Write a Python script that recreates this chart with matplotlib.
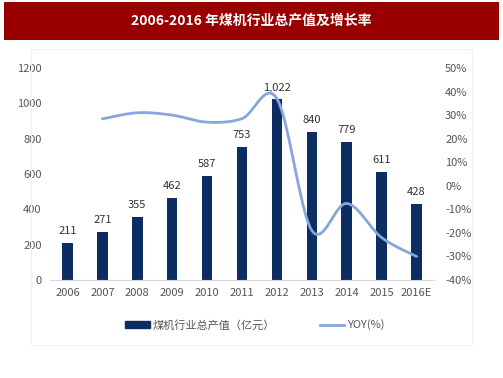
import numpy as np
import matplotlib
matplotlib.use("Agg")
import matplotlib.pyplot as plt
from matplotlib.patches import Rectangle
from matplotlib.lines import Line2D

plt.rcParams['font.family'] = ['Liberation Sans Narrow', 'Noto Sans CJK SC', 'DejaVu Sans']

years = ['2006', '2007', '2008', '2009', '2010', '2011', '2012', '2013', '2014', '2015', '2016E']
output = [211, 271, 355, 462, 587, 753, 1022, 840, 779, 611, 428]
output_labels = ['211', '271', '355', '462', '587', '753', '1,022', '840', '779', '611', '428']
yoy_years_idx = [1, 2, 3, 4, 5, 6, 7, 8, 9, 10]
yoy = [28.4, 31.0, 30.0, 27.0, 28.5, 37.0, -19.0, -7.5, -22.0, -30.0]

title = '2006-2016 年煤机行业总产值及增长率'
bar_name = '煤机行业总产值（亿元）'
line_name = 'YOY(%)'

bar_color = '#0c2d62'
line_color = '#86a6dc'


def smooth(xs, ys, n=20):
    # Catmull-Rom style curve through the points (rendering only)
    xs = np.asarray(xs, float); ys = np.asarray(ys, float)
    px = np.concatenate([[xs[0]], xs, [xs[-1]]])
    py = np.concatenate([[ys[0]], ys, [ys[-1]]])
    ox, oy = [], []
    for i in range(1, len(px) - 2):
        p0 = np.array([px[i-1], py[i-1]]); p1 = np.array([px[i], py[i]])
        p2 = np.array([px[i+1], py[i+1]]); p3 = np.array([px[i+2], py[i+2]])
        c1 = p1 + (p2 - p0) / 6.0
        c2 = p2 - (p3 - p1) / 6.0
        t = np.linspace(0, 1, n)[:, None]
        pts = (1-t)**3*p1 + 3*(1-t)**2*t*c1 + 3*(1-t)*t**2*c2 + t**3*p2
        ox.extend(pts[:, 0]); oy.extend(pts[:, 1])
    return np.array(ox), np.array(oy)


fig = plt.figure(figsize=(5.03, 3.78), dpi=100)
fig.patch.set_facecolor('white')

# title band
fig.patches.append(Rectangle((4/503, 1-40/378), 495/503, 38/378, transform=fig.transFigure,
                             facecolor='#990000', edgecolor='none', zorder=0))
fig.text(0.5, 1-21/378, title, ha='center', va='center', color='white', fontsize=10,
         fontweight='bold', family=['Noto Sans CJK SC', 'DejaVu Sans'])

# faint picture border
fig.patches.append(Rectangle((31/503, 1-345/378), 441/503, 296/378, transform=fig.transFigure,
                             facecolor='none', edgecolor='#efefef', linewidth=0.8, zorder=0))

ax = fig.add_axes([50/503, 1-280/378, 384/503, 212/378])
x = np.arange(len(years))
ax.bar(x, output, width=0.3, color=bar_color, zorder=2)
for xi, v, lab in zip(x, output, output_labels):
    ax.annotate(lab, (xi, v), xytext=(0, 5), textcoords='offset points', ha='center', va='bottom',
                fontsize=8, color='#333333')
ax.set_xlim(-0.5, len(years) - 0.5)
ax.set_ylim(0, 1200)
ax.set_yticks(range(0, 1201, 200))
ax.set_xticks(x)
ax.set_xticklabels(years)
for s in ['top', 'right', 'left']:
    ax.spines[s].set_visible(False)
ax.spines['bottom'].set_color('#d9d9d9')
ax.tick_params(axis='both', length=0, colors='#555555', labelsize=8)
ax.tick_params(axis='x', pad=6)
ax.tick_params(axis='y', pad=6)

ax2 = ax.twinx()
sx, sy = smooth(yoy_years_idx, yoy)
ax2.plot(sx, sy, color=line_color, linewidth=2, zorder=3, solid_capstyle='round')
ax2.set_ylim(-40, 50)
ax2.set_yticks(range(-40, 51, 10))
ax2.set_yticklabels([f'{v}%' for v in range(-40, 51, 10)])
for s in ['top', 'right', 'left', 'bottom']:
    ax2.spines[s].set_visible(False)
ax2.tick_params(axis='y', length=0, colors='#555555', labelsize=8, pad=8)

handles = [Rectangle((0, 0), 1, 1, color=bar_color),
           Line2D([0], [0], color=line_color, linewidth=2)]
fig.legend(handles, [bar_name, line_name], loc='center', bbox_to_anchor=(255/503, 1-325/378),
           ncol=2, frameon=False, fontsize=8, handlelength=2.2, handleheight=0.5,
           columnspacing=4, handletextpad=0.3, labelcolor='#555555')

fig.savefig('out.png', dpi=100, facecolor='white')
